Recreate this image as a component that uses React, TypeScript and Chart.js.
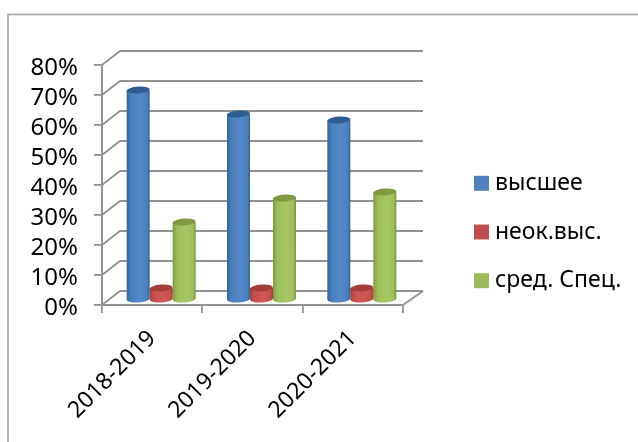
import React, { useEffect, useRef } from "react";
import { Chart, registerables } from "chart.js";

Chart.register(...registerables);

const categories = ["2018-2019", "2019-2020", "2020-2021"];
const higher = [70, 62, 60];
const incomplete = [4, 4, 4];
const secondary = [26, 34, 36];
const seriesNames = ["высшее", "неок.выс.", "сред. Спец."];
const seriesColors = ["#4f81bd", "#c0504d", "#9bbb59"];
const seriesShades = [
  ["#35649a", "#4a80bf", "#5289c9", "#34608f", "#2f5d92"],
  ["#a03f3c", "#c94f4c", "#d0595a", "#9c3b38", "#a33e3b"],
  ["#7d9a42", "#9fbf5b", "#a6c763", "#76923c", "#7f9a42"],
];
const yStep = 10;
const FONT = "'Noto Sans', sans-serif";
const GRID = "#929292";
const DX = 18;
const DY = 14;
const W = 638;
const H = 442;
const SQUARE = 15;
const LEGEND_X = 474;
const LEGEND_PAD = 25.7;

const App = () => {
  const ref = useRef<HTMLCanvasElement>(null);
  useEffect(() => {
    const plugin = {
      id: "scene3d",
      beforeLayout(chart: any) {
        const lg = chart.legend;
        if (lg && !lg.__wrapped) {
          const fit = lg.fit;
          lg.fit = function () {
            fit.call(this);
            this.width = W - 403;
          };
          lg.__wrapped = true;
        }
      },
      afterLayout(chart: any) {
        const lg = chart.legend;
        lg.left = LEGEND_X - LEGEND_PAD;
        lg.right = lg.left + 190;
        lg.top = 30;
        lg.bottom = 434;
        lg.adjustHitBoxes();
      },
      beforeDraw(chart: any) {
        const { ctx } = chart;
        ctx.save();
        ctx.fillStyle = "#fff";
        ctx.fillRect(0, 0, W, H);
        ctx.strokeStyle = "#a0a0a0";
        ctx.lineWidth = 1.5;
        ctx.beginPath();
        ctx.moveTo(8, H);
        ctx.lineTo(8, 14.5);
        ctx.lineTo(W, 14.5);
        ctx.stroke();
        ctx.restore();
      },
      beforeDatasetsDraw(chart: any) {
        const { ctx, chartArea, scales } = chart;
        const y = scales.y;
        ctx.save();
        ctx.strokeStyle = GRID;
        ctx.lineWidth = 1.8;
        y.ticks.forEach((t: any) => {
          const py = y.getPixelForValue(t.value);
          ctx.beginPath();
          ctx.moveTo(chartArea.left, py);
          ctx.lineTo(chartArea.left + DX, py - DY);
          ctx.lineTo(chartArea.right + DX + 2, py - DY);
          ctx.stroke();
        });
        ctx.beginPath();
        ctx.moveTo(chartArea.right, chartArea.bottom);
        ctx.lineTo(chartArea.right + DX + 2, chartArea.bottom - DY);
        ctx.stroke();
        ctx.restore();
      },
      beforeDatasetDraw(chart: any, args: any) {
        const { ctx } = chart;
        const meta = args.meta;
        const shades = seriesShades[args.index];
        meta.data.forEach((bar: any) => {
          const props = bar.getProps(["x", "y", "base", "width"], true);
          const cx = props.x + DX / 2;
          const rx = props.width / 2;
          const ry = 3.4;
          const top = props.y - DY / 2 + 2;
          const bottom = props.base - DY / 2 + 2;
          const g = ctx.createLinearGradient(cx - rx, 0, cx + rx, 0);
          g.addColorStop(0, shades[0]);
          g.addColorStop(0.2, shades[1]);
          g.addColorStop(0.6, shades[2]);
          g.addColorStop(0.88, shades[1]);
          g.addColorStop(1, shades[3]);
          ctx.save();
          ctx.fillStyle = g;
          ctx.beginPath();
          ctx.moveTo(cx - rx, top);
          ctx.lineTo(cx - rx, bottom);
          ctx.ellipse(cx, bottom, rx, ry, -0.06, Math.PI, 0, true);
          ctx.lineTo(cx + rx, top);
          ctx.closePath();
          ctx.fill();
          ctx.fillStyle = shades[4];
          ctx.beginPath();
          ctx.ellipse(cx, top, rx, ry, -0.08, 0, Math.PI * 2);
          ctx.fill();
          ctx.restore();
        });
        return false;
      },
      afterDraw(chart: any) {
        const { ctx } = chart;
        const boxes = chart.legend.legendHitBoxes;
        ctx.save();
        boxes.forEach((b: any, i: number) => {
          ctx.fillStyle = seriesColors[i];
          ctx.fillRect(LEGEND_X, b.top + (b.height - SQUARE) / 2, SQUARE, SQUARE);
        });
        ctx.restore();
      },
    };

    const chart = new Chart(ref.current!, {
      type: "bar",
      data: {
        labels: categories,
        datasets: [higher, incomplete, secondary].map((data, i) => ({
          label: seriesNames[i],
          data,
          backgroundColor: seriesColors[i],
          borderWidth: 0,
          barThickness: 23,
        })),
      },
      plugins: [plugin],
      options: {
        responsive: false,
        animation: false,
        layout: { padding: { top: 65, left: 0, right: 0, bottom: 0 } },
        plugins: {
          tooltip: { enabled: false },
          title: { display: false },
          legend: {
            position: "right",
            align: "center",
            labels: {
              boxWidth: 9.5,
              boxHeight: 11,
              padding: LEGEND_PAD,
              color: "#000",
              font: { family: FONT, size: 23, lineHeight: 1 },
            },
          },
        },
        scales: {
          x: {
            afterFit(s: any) {
              s.height = H - 305;
            },
            grid: {
              offset: true,
              drawOnChartArea: false,
              drawTicks: true,
              tickLength: 8,
              color: GRID,
              lineWidth: 1.8,
            },
            border: { display: true, color: GRID, width: 2 },
            ticks: {
              minRotation: 45,
              maxRotation: 45,
              color: "#000",
              padding: 12,
              font: { family: FONT, size: 23 },
            },
          },
          y: {
            min: 0,
            max: 80,
            afterFit(s: any) {
              s.width = 102;
            },
            grid: {
              drawOnChartArea: false,
              drawTicks: true,
              tickLength: 8,
              color: GRID,
              lineWidth: 1.8,
            },
            border: { display: true, color: GRID, width: 2 },
            ticks: {
              stepSize: yStep,
              autoSkip: false,
              color: "#000",
              padding: 16,
              labelOffset: 3.5,
              callback: (v: any) => v + "%",
              font: { family: FONT, size: 24 },
            },
          },
        },
      },
    } as any);
    return () => chart.destroy();
  }, []);
  return (
    <canvas
      ref={ref}
      width={W}
      height={H}
      style={{ position: "fixed", left: 0, top: 0, width: W, height: H }}
    />
  );
};

export default App;
